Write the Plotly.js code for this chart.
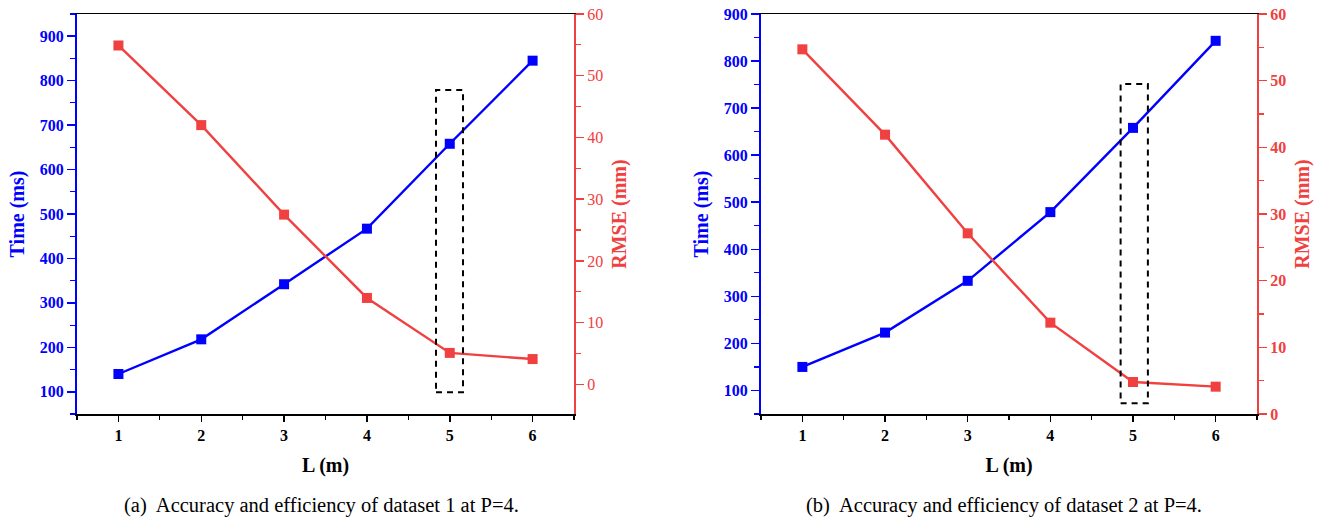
<!DOCTYPE html>
<html>
<head>
<meta charset="utf-8">
<script src="https://cdn.plot.ly/plotly-3.0.1.min.js"></script>
<style>html,body{margin:0;padding:0;background:#fff;}#chart{width:1326px;height:521px;}</style>
</head>
<body>
<div id="chart"></div>
<script>
const L = [1, 2, 3, 4, 5, 6];
const timeA = [140, 218, 342, 467, 658, 845];
const rmseA = [54.9, 42.0, 27.5, 14.0, 5.1, 4.1];
const timeB = [150, 223, 333, 479, 658, 843];
const rmseB = [54.7, 41.9, 27.1, 13.7, 4.8, 4.1];
const xTicks = [1, 2, 3, 4, 5, 6];
const captionA = "(a)  Accuracy and efficiency of dataset 1 at P=4.";
const captionB = "(b)  Accuracy and efficiency of dataset 2 at P=4.";

const BLUE = "#0000FF";
const RED = "#F04040";
const FONT = "Liberation Serif, Times New Roman, serif";

function line(x, y, color, xa, ya) {
  return {x: x, y: y, xaxis: xa, yaxis: ya, type: "scatter", mode: "lines+markers",
    line: {color: color, width: 2.4}, marker: {symbol: "square", size: 10, color: color},
    showlegend: false, hoverinfo: "skip"};
}

const data = [
  line(L, timeA, BLUE, "x", "y"),
  line(L, rmseA, RED, "x", "y2"),
  line(L, timeB, BLUE, "x2", "y3"),
  line(L, rmseB, RED, "x2", "y4")
];

function xaxis(domain, anchor) {
  return {domain: domain, anchor: anchor, range: [0.5, 6.5], tickvals: xTicks,
    showline: true, mirror: true, linecolor: "#000", linewidth: 1.5,
    ticks: "outside", ticklen: 6, tickwidth: 1.5, tickcolor: "#000",
    minor: {dtick: 0.5, tick0: 0.5, ticks: "outside", ticklen: 4, tickcolor: "#000", tickwidth: 1.2},
    showgrid: false, zeroline: false,
    tickfont: {family: FONT, size: 16, color: "#000", weight: "bold"},
    title: {text: "<b>L (m)</b>", font: {family: FONT, size: 20, color: "#000"}, standoff: 15}};
}
function timeAxis(range, anchor) {
  return {domain: [0, 1], anchor: anchor, range: range, tick0: 100, dtick: 100,
    showline: true, linecolor: BLUE, linewidth: 2,
    ticks: "outside", ticklen: 8, tickwidth: 1.5, tickcolor: BLUE,
    minor: {dtick: 50, tick0: 50, ticks: "outside", ticklen: 5, tickcolor: BLUE, tickwidth: 1.2},
    showgrid: false, zeroline: false,
    tickfont: {family: FONT, size: 16, color: BLUE, weight: "bold"},
    title: {text: "<b>Time (ms)</b>", font: {family: FONT, size: 20, color: BLUE}, standoff: 10}};
}
function rmseAxis(range, anchor, overlay, bold) {
  return {anchor: anchor, overlaying: overlay, side: "right", range: range, tick0: 0, dtick: 10,
    showline: true, linecolor: RED, linewidth: 2,
    ticks: "outside", ticklen: 8, tickwidth: 1.5, tickcolor: RED,
    minor: {dtick: 5, tick0: 0, ticks: "outside", ticklen: 5, tickcolor: RED, tickwidth: 1.2},
    showgrid: false, zeroline: false,
    tickfont: {family: FONT, size: 16, color: RED, weight: bold ? "bold" : "normal"},
    title: {text: "<b>RMSE (mm)</b>", font: {family: FONT, size: 20, color: RED}, standoff: 10}};
}

const layout = {
  width: 1326, height: 521,
  margin: {l: 77, r: 69, t: 14, b: 107},
  paper_bgcolor: "#fff", plot_bgcolor: "#fff",
  font: {family: FONT},
  xaxis: xaxis([0, 0.4212], "y"),
  xaxis2: xaxis([0.5797, 1], "y3"),
  yaxis: timeAxis([50, 950], "x"),
  yaxis2: rmseAxis([-4.8, 60], "x", "y", false),
  yaxis3: timeAxis([50, 900], "x2"),
  yaxis4: rmseAxis([0, 60], "x2", "y3", true),
  shapes: [
    {type: "rect", xref: "x", yref: "y", x0: 4.834, x1: 5.16, y0: 99, y1: 779,
     line: {color: "#000", width: 2, dash: "6px,5px"}},
    {type: "rect", xref: "x2", yref: "y3", x0: 4.85, x1: 5.18, y0: 73, y1: 751,
     line: {color: "#000", width: 2, dash: "6px,5px"}}
  ],
  annotations: [
    {text: captionA, xref: "paper", yref: "paper", x: 0.2068, y: -0.2275, xanchor: "center", yanchor: "middle",
     showarrow: false, font: {family: FONT, size: 20.5, color: "#000"}},
    {text: captionB, xref: "paper", yref: "paper", x: 0.7856, y: -0.2275, xanchor: "center", yanchor: "middle",
     showarrow: false, font: {family: FONT, size: 20.5, color: "#000"}}
  ]
};

Plotly.newPlot("chart", data, layout, {displayModeBar: false, staticPlot: true});
</script>
</body>
</html>
